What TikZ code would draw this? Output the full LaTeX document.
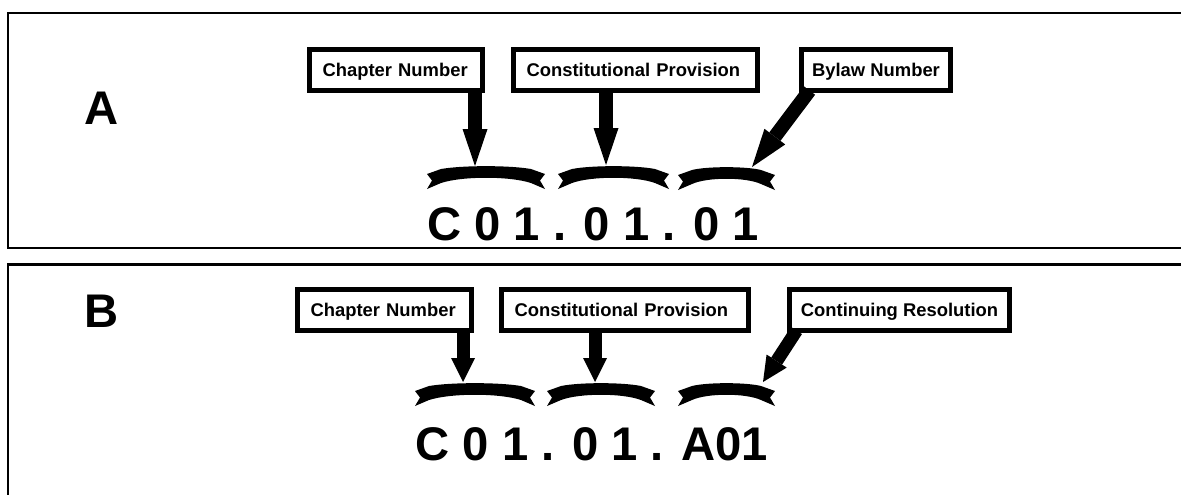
\documentclass[tikz,border=0pt]{standalone}
\usepackage{fontspec}
\setmainfont{Liberation Sans}
\usetikzlibrary{arrows.meta,calc}
% ribbon-like bracket: left x, right x, top y (px)
\newcommand\ribbonbrk[3]{%
  \pgfmathsetmacro\rbL{#1}\pgfmathsetmacro\rbR{#2}\pgfmathsetmacro\rbT{#3}%
  \pgfmathsetmacro\rbW{#2-#1}%
  \fill (\rbL,\rbT+8) -- (\rbL+14,\rbT+3)
    .. controls (\rbL+0.3*\rbW,\rbT-0.8) and (\rbR-0.3*\rbW,\rbT-0.8) .. (\rbR-14,\rbT+3)
    -- (\rbR,\rbT+8) -- (\rbR-5,\rbT+14.5) -- (\rbR,\rbT+23) -- (\rbR-14,\rbT+17)
    .. controls (\rbR-0.3*\rbW,\rbT+10) and (\rbL+0.3*\rbW,\rbT+10) .. (\rbL+14,\rbT+17)
    -- (\rbL,\rbT+23) -- (\rbL+5,\rbT+14.5) -- cycle;}
\begin{document}
\begin{tikzpicture}[x=0.5pt,y=-0.5pt,
  frame/.style={line width=1.25pt},
  lbl/.style={draw, line width=2.5pt, inner sep=0pt, outer sep=0pt,
    font=\bfseries\fontsize{9.2}{11}\selectfont, minimum height=20.5pt,
    text height=6.6pt, text depth=0pt},
  lblleft/.style={lbl, align=left, inner xsep=6.5pt},
  big/.style={font=\bfseries\fontsize{23.6}{28}\selectfont, inner sep=0pt},
  arrA/.style={line width=7pt, -{Triangle[length=18.5pt,width=12.5pt,line width=0pt]}},
  arrAd/.style={line width=7pt, -{Triangle[length=19pt,width=13pt,line width=0pt]}},
  arrB/.style={line width=6.5pt, -{Triangle[length=12pt,width=12pt,line width=0pt]}},
  arrBd/.style={line width=6.5pt, -{Triangle[length=12.5pt,width=12pt,line width=0pt]}}
]
\useasboundingbox (0,0) rectangle (1181,495);
% panel frames
\draw[frame] (1181,13) -- (8,13) -- (8,248) -- (1181,248);
\draw[frame] (1181,264.5) -- (8,264.5) -- (8,495);
% panel letters
\node[big] (labA) at (102,108) {A};
\node[big] (labB) at (102,311.5) {B};

% ---- Panel A ----
\node[lblleft, text width=73.5pt] (ach) at (396,70) {Chapter Number};
\node[lblleft, text width=109pt] (acp) at (635.5,70) {Constitutional Provision};
\node[lbl, minimum width=74.5pt] (aby) at (876,70) {Bylaw Number};
\ribbonbrk{427}{545}{166}
\ribbonbrk{558}{669}{166}
\ribbonbrk{678}{775}{167}
\coordinate (ta1) at (475,166);
\coordinate (ta2) at (606,165);
\coordinate (ta3) at (752,167);
\draw[arrA] (ach.south -| ta1) -- (ta1);
\draw[arrA] (acp.south -| ta2) -- (ta2);
\draw[arrAd] ($(aby.south west)+(8,0)$) -- (ta3);
\node[big, anchor=base] (codeA) at (593,240) {C 0 1 . 0 1 . 0 1};

% ---- Panel B ----
\node[lblleft, text width=74pt] (bch) at (384.5,310) {Chapter Number};
\node[lblleft, text width=110.5pt] (bcp) at (625,310) {Constitutional Provision};
\node[lbl, minimum width=110pt] (bcr) at (899.5,310) {Continuing Resolution};
\ribbonbrk{415}{535}{383}
\ribbonbrk{547}{655}{383}
\ribbonbrk{678}{775}{383}
\coordinate (tb1) at (463,382);
\coordinate (tb2) at (595,382);
\coordinate (tb3) at (763,382);
\draw[arrB] (bch.south -| tb1) -- (tb1);
\draw[arrB] (bcp.south -| tb2) -- (tb2);
\draw[arrBd] ($(bcr.south west)+(7,0)$) -- (tb3);
\node[big, anchor=base] (codeB) at (592,460) {C 0 1 . 0 1 . A01};
\end{tikzpicture}
\end{document}
